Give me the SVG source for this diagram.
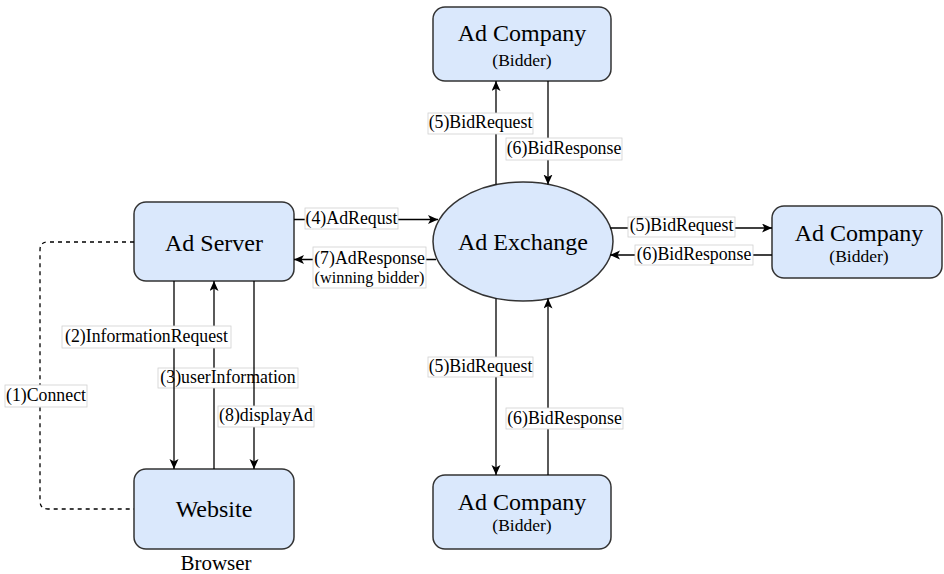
<svg xmlns="http://www.w3.org/2000/svg" width="944" height="574" viewBox="0 0 944 574">
  <defs>
    <marker id="arrow" markerUnits="userSpaceOnUse" markerWidth="11" markerHeight="10" refX="10" refY="4.5" orient="auto">
      <path d="M0,0 L10,4.5 L0,9 L2.5,4.5 z" fill="#000"/>
    </marker>
    <style>
      .box { fill: #dae8fc; stroke: #333; stroke-width: 1.5; }
      .title { font-family: "Liberation Serif", "Times New Roman", serif; font-size: 24px; fill: #000; text-anchor: middle; }
      .sub { font-family: "Liberation Serif", "Times New Roman", serif; font-size: 17.5px; fill: #000; text-anchor: middle; }
      .edge { fill: none; stroke: #000; stroke-width: 1.3; }
      .dash { fill: none; stroke: #000; stroke-width: 1.3; stroke-dasharray: 4 4; }
      .lbg { fill: #fff; stroke: #d0d0d0; stroke-width: 0.8; }
      .lbl { font-family: "Liberation Serif", "Times New Roman", serif; font-size: 17.8px; fill: #000; text-anchor: middle; }
      .lbls { font-family: "Liberation Serif", "Times New Roman", serif; font-size: 16.3px; fill: #000; text-anchor: middle; }
    </style>
  </defs>
  <rect width="944" height="574" fill="#fff"/>

  <!-- nodes -->
  <g id="ad-server">
    <rect class="box" x="134" y="202" width="160" height="79" rx="12"/>
    <text class="title" x="214" y="251">Ad Server</text>
  </g>
  <g id="website">
    <rect class="box" x="134" y="469" width="160" height="80" rx="12"/>
    <text class="title" x="214" y="517">Website</text>
    <text class="title" x="216" y="570" style="font-size:21px">Browser</text>
  </g>
  <g id="ad-exchange">
    <ellipse class="box" cx="523" cy="241.5" rx="90" ry="59.5"/>
    <text class="title" x="523" y="250">Ad Exchange</text>
  </g>
  <g id="bidder-top">
    <rect class="box" x="433" y="7" width="178" height="74" rx="12"/>
    <text class="title" x="522" y="41">Ad Company</text>
    <text class="sub" x="522" y="66">(Bidder)</text>
  </g>
  <g id="bidder-right">
    <rect class="box" x="772" y="206" width="170" height="72" rx="12"/>
    <text class="title" x="859" y="241">Ad Company</text>
    <text class="sub" x="859" y="262">(Bidder)</text>
  </g>
  <g id="bidder-bottom">
    <rect class="box" x="433" y="475" width="178" height="74" rx="12"/>
    <text class="title" x="522" y="510">Ad Company</text>
    <text class="sub" x="522" y="531">(Bidder)</text>
  </g>

  <!-- connectors -->
  <g id="connectors">
    <!-- (1) browser connects to the ad server -->
    <path class="dash" d="M134,242 H48 Q40,242 40,250 V501 Q40,509 48,509 H134"/>
    <rect class="lbg" x="5" y="385" width="82" height="22"/>
    <text class="lbl" x="46" y="401">(1)Connect</text>

    <!-- (3) user information up to the ad server -->
    <path class="edge" d="M214,469 V281" marker-end="url(#arrow)"/>
    <rect class="lbg" x="158" y="368" width="140" height="20"/>
    <text class="lbl" x="228" y="383">(3)userInformation</text>

    <!-- (2) information request down to the website -->
    <path class="edge" d="M174,281 V469" marker-end="url(#arrow)"/>
    <rect class="lbg" x="62" y="326" width="169" height="22"/>
    <text class="lbl" x="146.5" y="342">(2)InformationRequest</text>

    <!-- (8) display ad -->
    <path class="edge" d="M254,281 V469" marker-end="url(#arrow)"/>
    <rect class="lbg" x="218" y="406" width="96" height="21"/>
    <text class="lbl" x="266" y="421">(8)displayAd</text>

    <!-- (4) ad request to the exchange -->
    <path class="edge" d="M294,219.5 H438" marker-end="url(#arrow)"/>
    <rect class="lbg" x="305" y="208" width="93" height="21"/>
    <text class="lbl" x="351.5" y="223.5">(4)AdRequst</text>

    <!-- (7) ad response back to the ad server -->
    <path class="edge" d="M436,259.5 H294" marker-end="url(#arrow)"/>
    <rect class="lbg" x="313" y="247" width="113" height="41"/>
    <text class="lbl" x="369.5" y="263.5">(7)AdResponse</text>
    <text class="lbls" x="369.5" y="283">(winning bidder)</text>

    <!-- top bidder -->
    <path class="edge" d="M496,184.5 V81" marker-end="url(#arrow)"/>
    <rect class="lbg" x="428" y="113" width="105" height="21"/>
    <text class="lbl" x="480.5" y="128">(5)BidRequest</text>
    <path class="edge" d="M548,81 V184.5" marker-end="url(#arrow)"/>
    <rect class="lbg" x="506" y="138" width="116" height="22"/>
    <text class="lbl" x="564" y="153.5">(6)BidResponse</text>

    <!-- right bidder -->
    <path class="edge" d="M610,228 H772" marker-end="url(#arrow)"/>
    <rect class="lbg" x="628" y="217" width="107" height="20"/>
    <text class="lbl" x="681.5" y="231">(5)BidRequest</text>
    <path class="edge" d="M772,255 H610" marker-end="url(#arrow)"/>
    <rect class="lbg" x="635" y="245" width="118" height="20"/>
    <text class="lbl" x="694" y="259.5">(6)BidResponse</text>

    <!-- bottom bidder -->
    <path class="edge" d="M496,298.5 V475" marker-end="url(#arrow)"/>
    <rect class="lbg" x="428" y="357" width="105" height="20"/>
    <text class="lbl" x="480.5" y="372">(5)BidRequest</text>
    <path class="edge" d="M548,475 V298.5" marker-end="url(#arrow)"/>
    <rect class="lbg" x="506" y="408" width="117" height="21"/>
    <text class="lbl" x="564.5" y="423.5">(6)BidResponse</text>
  </g>
</svg>
